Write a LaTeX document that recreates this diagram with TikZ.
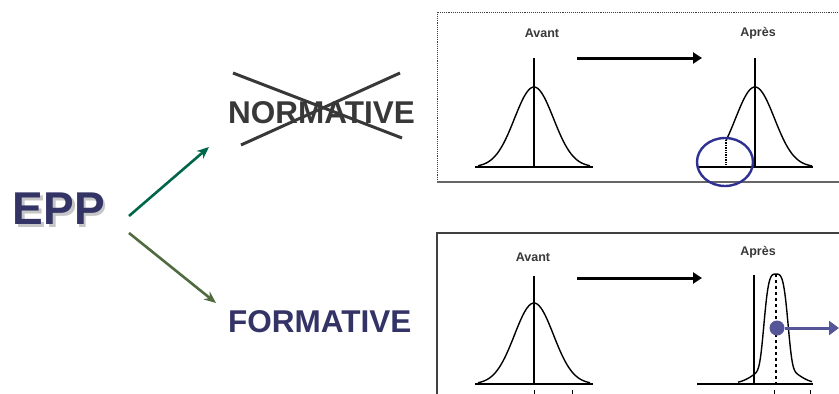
\documentclass[tikz,border=0pt]{standalone}
\usepackage{fontspec}
\setmainfont{Liberation Sans}
\usepackage{xcolor}
\usetikzlibrary{arrows.meta}
\definecolor{eppblue}{HTML}{333366}
\definecolor{eppgreen}{HTML}{00664A}
\definecolor{olive}{HTML}{4F6B3F}
\definecolor{ringblue}{HTML}{2E3191}
\definecolor{dotblue}{HTML}{555599}
\definecolor{txtgray}{HTML}{383838}

\begin{document}
\begin{tikzpicture}[x=1pt,y=-1pt,
    big/.style={font=\bfseries\fontsize{31.5}{36}\selectfont, inner sep=0pt},
    phase/.style={font=\bfseries\fontsize{12.5}{14}\selectfont, text=txtgray, inner sep=0pt},
    bell/.style={line width=1.4pt, smooth},
    move/.style={line width=3pt, -{Triangle[length=9pt,width=11pt]}}]
  \useasboundingbox (0,0) rectangle (839,394);

  % left part
  \node[font=\bfseries\fontsize{46}{50}\selectfont, text=eppblue, inner sep=0pt] (epp) at (59,210)
    {\rlap{\kern2.5pt\raisebox{-2.5pt}{\textcolor{gray!45}{EPP}}}EPP};
  \node[big, text=txtgray, anchor=west] (norm) at (228,113) {NORMATIVE};
  \node[big, text=eppblue, anchor=west] (form) at (228,322) {FORMATIVE};
  \coordinate (n1) at (129,216);
  \coordinate (n2) at (209,147);
  \coordinate (f1) at (129,233);
  \coordinate (f2) at (216,303);
  \draw[eppgreen, line width=2.6pt, -{Stealth[length=12pt,width=10pt]}] (n1) -- (n2);
  \draw[olive, line width=2.6pt, -{Stealth[length=12pt,width=10pt]}] (f1) -- (f2);
  % crossed out
  \draw[txtgray, line width=3pt] (233,73) -- (402,138);
  \draw[txtgray, line width=3pt] (241,145) -- (400,73);

  % top panel
  \draw[darkgray, densely dotted, line width=0.9pt] (437,182) -- (437,12) -- (839,12);
  \draw[darkgray!80, line width=2.2pt] (437,182) -- (839,182);
  \node[phase] (avant1) at (542,33) {Avant};
  \node[phase] (apres1) at (758,33) {Après};
  \coordinate (m1) at (577,58);
  \coordinate (m2) at (702,58);
  \draw[move] (m1) -- (m2);
  \draw[line width=1.8pt] (475,167) -- (593,167);
  \draw[line width=1.2pt] (534,58) -- (534,167);
  \draw[bell] plot[domain=478:590, samples=60] (\x, {167 - 80*exp(-((\x-534)^2)/(2*19.5*19.5))});
  \draw[line width=1.8pt] (697,167) -- (813,167);
  \draw[line width=1.2pt] (755,58) -- (755,167);
  \draw[bell] plot[domain=726:812, samples=60] (\x, {167 - 80*exp(-((\x-755)^2)/(2*19.5*19.5))});
  \draw[line width=1.4pt, densely dotted] (726,140) -- (726,167);
  \draw[ringblue, line width=2.4pt] (725,162) ellipse [x radius=28pt, y radius=24pt];

  % bottom panel
  \draw[darkgray, line width=1.6pt] (437,394) -- (437,233) -- (839,233);
  \node[phase] (avant2) at (533,257) {Avant};
  \node[phase] (apres2) at (758,252) {Après};
  \coordinate (m3) at (577,278);
  \coordinate (m4) at (702,278);
  \draw[move] (m3) -- (m4);
  \draw[line width=1.6pt] (475,384) -- (593,384);
  \draw[line width=1.2pt] (534,276) -- (534,384);
  \draw[bell] plot[domain=478:590, samples=60] (\x, {384 - 81*exp(-((\x-534)^2)/(2*19.5*19.5))});
  \draw[line width=1.6pt] (697,384) -- (813,384);
  \draw[line width=1.2pt] (754,275) -- (754,384);
  \draw[bell] plot[domain=738:812, samples=80] (\x, {384 - 110*(0.8*exp(-0.5*((\x-776)/11)^4) + 0.2*exp(-0.5*((\x-776)/17)^2))});
  \draw[line width=1.2pt, dashed] (776,274) -- (776,384);
  \foreach \t in {534,572,774,810}
    \draw[line width=0.8pt] (\t,390) -- (\t,394);
  \node[circle, fill=dotblue, minimum size=15pt, inner sep=0pt] (dot) at (777,328) {};
  \coordinate (out) at (839,328);
  \draw[dotblue, line width=3pt, -{Triangle[length=10pt,width=14pt]}] (dot) -- (out);
\end{tikzpicture}
\end{document}
